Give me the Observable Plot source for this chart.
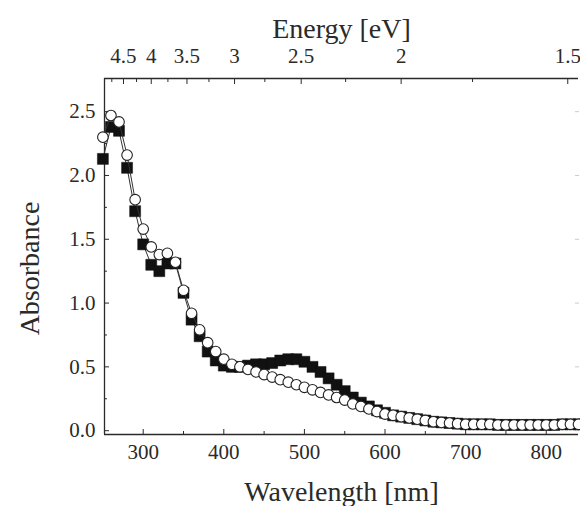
<!DOCTYPE html>
<html><head><meta charset="utf-8">
<script src="https://cdn.jsdelivr.net/npm/d3@7"></script>
<script src="https://cdn.jsdelivr.net/npm/@observablehq/plot@0.6"></script>
<style>
body{margin:0;background:#fff}
#chart svg{display:block;font-family:"Liberation Serif","Times New Roman",serif !important;font-size:21px}
#chart svg text{font-family:"Liberation Serif","Times New Roman",serif !important}
</style>
</head><body><div id="chart"></div>
<script>
const wavelength = [250,260,270,280,290,300,310,320,330,340,350,360,370,380,390,400,410,420,430,440,450,460,470,480,490,500,510,520,530,540,550,560,570,580,590,600,610,620,630,640,650,660,670,680,690,700,710,720,730,740,750,760,770,780,790,800,810,820,830,840];
const absSquares = [2.13,2.38,2.35,2.06,1.72,1.46,1.30,1.25,1.31,1.31,1.08,0.87,0.74,0.62,0.55,0.51,0.50,0.50,0.51,0.52,0.52,0.53,0.55,0.56,0.56,0.54,0.50,0.46,0.41,0.36,0.31,0.26,0.22,0.19,0.16,0.14,0.12,0.11,0.10,0.09,0.08,0.07,0.065,0.06,0.055,0.05,0.05,0.05,0.05,0.045,0.045,0.045,0.045,0.045,0.045,0.045,0.045,0.05,0.05,0.05];
const absCircles = [2.30,2.47,2.42,2.16,1.81,1.58,1.44,1.38,1.39,1.32,1.10,0.92,0.79,0.69,0.62,0.56,0.52,0.50,0.48,0.46,0.44,0.42,0.40,0.38,0.36,0.34,0.32,0.30,0.28,0.26,0.24,0.21,0.19,0.17,0.15,0.13,0.12,0.11,0.10,0.09,0.08,0.07,0.065,0.06,0.055,0.05,0.05,0.05,0.05,0.045,0.045,0.045,0.045,0.045,0.045,0.045,0.045,0.05,0.05,0.05];
const xMajorTicks = [300,400,500,600,700,800];
const xMinorTicks = [350,450,550,650,750];
const yMajorTicks = [0,0.5,1,1.5,2,2.5];
const yMinorTicks = [0.25,0.75,1.25,1.75,2.25];
const energyMajor = [4.5,4,3.5,3,2.5,2,1.5];
const energyMinor = [4.75,4.25,3.75,3.25,2.75,2.25,1.75];
const xDomain = [252,840];
const yDomain = [-0.03,2.76];

const squares = wavelength.map((w,i)=>({w, a: absSquares[i]}));
const circles = wavelength.map((w,i)=>({w, a: absCircles[i]}));
const toNm = e => 1240/e;
const ink = "#2a2a2a";
const serif = "Liberation Serif";

const chart = Plot.plot({
  width: 580, height: 506,
  marginLeft: 104, marginRight: 2, marginTop: 78, marginBottom: 72,
  style: {fontFamily: serif, fontSize: "21px", color: ink, background: "#fff"},
  x: {domain: xDomain, axis: null},
  y: {domain: yDomain, axis: null},
  marks: [
    Plot.ruleY([yDomain[0]], {stroke: ink, strokeWidth: 1.3}),
    Plot.ruleY([yDomain[1]], {stroke: ink, strokeWidth: 1.3}),
    Plot.ruleX([xDomain[0]], {stroke: ink, strokeWidth: 1.3}),
    Plot.axisX(xMajorTicks, {anchor: "bottom", tickSize: 5, dy: -5, tickPadding: 10, label: null, fontSize: 21, tickFormat: d => String(d)}),
    Plot.axisX(xMinorTicks, {anchor: "bottom", tickSize: 3, dy: -3, fill: "none", label: null}),
    Plot.axisX(energyMajor.map(toNm), {anchor: "top", tickSize: 5, dy: 5, tickPadding: 16, label: null, fontSize: 21, tickFormat: d => String(Math.round(1240/d*100)/100)}),
    Plot.axisX(energyMinor.map(toNm), {anchor: "top", tickSize: 3, dy: 3, fill: "none", label: null}),
    Plot.axisY(yMajorTicks, {anchor: "left", tickSize: 5, dx: 5, tickPadding: 9, label: null, fontSize: 21, tickFormat: d3.format(".1f")}),
    Plot.axisY(yMinorTicks, {anchor: "left", tickSize: 3, dx: 3, fill: "none", label: null}),
    Plot.axisY(yMajorTicks, {anchor: "right", tickSize: 4, dx: -4, fill: "none", stroke: "#ccc", label: null}),
    Plot.line(squares, {x: "w", y: "a", stroke: "#333", strokeWidth: 1}),
    Plot.dot(squares, {x: "w", y: "a", symbol: "square", r: 6.2, fill: "#111", stroke: "#111", strokeWidth: 0.5}),
    Plot.line(circles, {x: "w", y: "a", stroke: "#333", strokeWidth: 1}),
    Plot.dot(circles, {x: "w", y: "a", r: 5.3, fill: "#fff", stroke: "#222", strokeWidth: 1.1}),
    Plot.text(["Energy [eV]"], {frameAnchor: "top", dy: -49, lineAnchor: "middle", textAnchor: "middle", fontSize: 28, fontFamily: serif, fill: ink}),
    Plot.text(["Wavelength [nm]"], {frameAnchor: "bottom", dy: 58, lineAnchor: "middle", textAnchor: "middle", fontSize: 28, fontFamily: serif, fill: ink}),
    Plot.text(["Absorbance"], {frameAnchor: "left", dx: -74, dy: 12, rotate: -90, lineAnchor: "middle", textAnchor: "middle", fontSize: 28, fontFamily: serif, fill: ink})
  ]
});
document.getElementById("chart").appendChild(chart);
</script>
</body></html>
